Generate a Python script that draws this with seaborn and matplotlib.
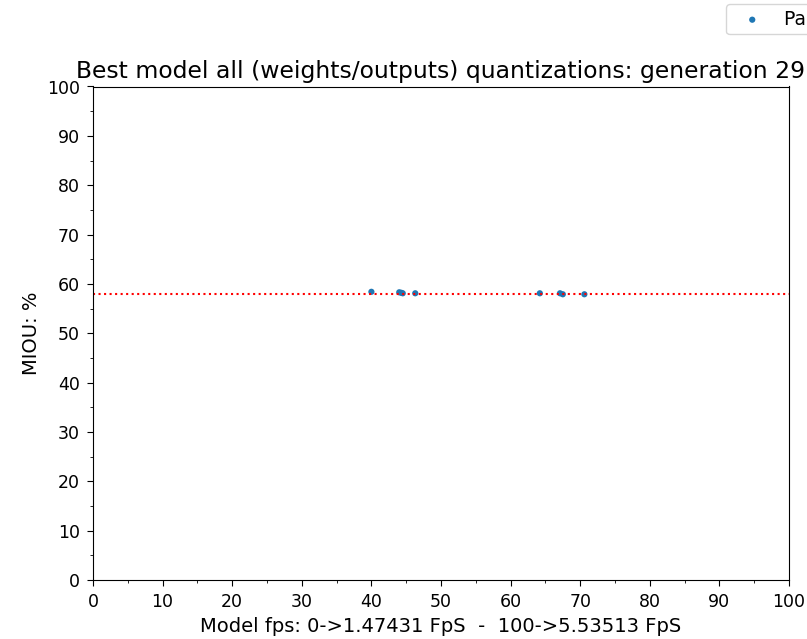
import matplotlib
matplotlib.use("Agg")
import matplotlib.pyplot as plt
import seaborn as sns
import pandas as pd
from matplotlib.ticker import MultipleLocator

# data
fps_score = [40.0, 44.0, 44.3, 44.5, 46.3, 64.2, 67.1, 67.5, 70.6]
miou = [58.4, 58.3, 58.2, 58.1, 58.1, 58.1, 58.1, 57.9, 57.9]
best_miou = 58.0

title = "Best model all (weights/outputs) quantizations: generation 29"
xlabel = "Model fps: 0->1.47431 FpS  -  100->5.53513 FpS"
ylabel = "MIOU: %"
legend_label = "Pareto front"

df = pd.DataFrame({"fps": fps_score, "miou": miou})

sns.set_style("ticks")
plt.rcParams["font.family"] = ["DejaVu Sans"]
for k in ("text.color", "axes.labelcolor", "xtick.color", "ytick.color", "axes.edgecolor"):
    plt.rcParams[k] = "black"

fig = plt.figure(figsize=(8.07, 6.39), dpi=100)
ax = fig.add_axes([93 / 807, 1 - 580 / 639, (789 - 93) / 807, (580 - 86.5) / 639])

sns.scatterplot(data=df, x="fps", y="miou", ax=ax, color="#1f77b4",
                marker="o", s=20, edgecolor="none", label=legend_label)
ax.axhline(best_miou, color="red", linestyle=":", linewidth=1.5)

ax.set_xlim(0, 100)
ax.set_ylim(0, 100)
ax.xaxis.set_major_locator(MultipleLocator(10))
ax.yaxis.set_major_locator(MultipleLocator(10))
ax.xaxis.set_minor_locator(MultipleLocator(5))
ax.yaxis.set_minor_locator(MultipleLocator(5))
ax.tick_params(which="major", labelsize=12.5, length=4.5, pad=5)
ax.tick_params(which="minor", length=2.5)
for s in ax.spines.values():
    s.set_visible(True)

ax.set_title(title, fontsize=16.9)
ax.set_xlabel(xlabel, fontsize=14)
ax.set_ylabel(ylabel, fontsize=14)

ax.legend(loc="upper left", bbox_to_anchor=(726 / 807, 1 - 4 / 639),
          bbox_transform=fig.transFigure, fontsize=13.5, frameon=True,
          borderaxespad=0, borderpad=0.3, handlelength=2.2, handletextpad=0.6)

fig.savefig("out.png", dpi=100)
